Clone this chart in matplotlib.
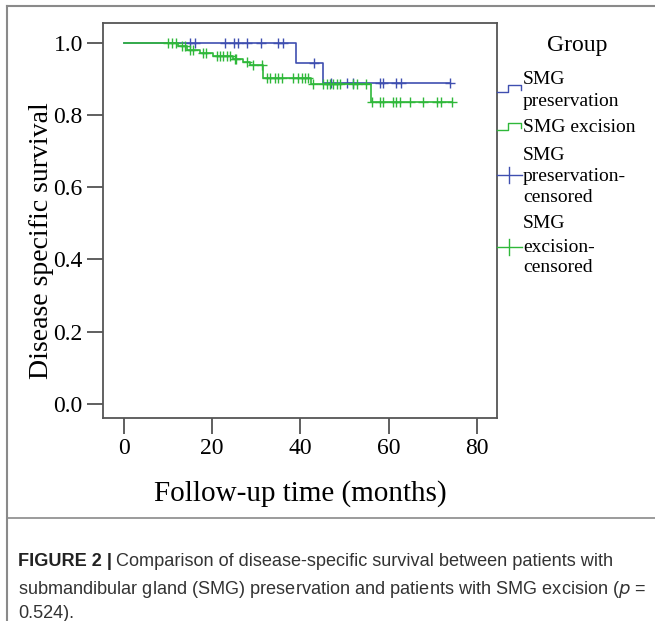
import numpy as np
import matplotlib
matplotlib.use("Agg")
import matplotlib.pyplot as plt
from matplotlib.lines import Line2D

# Kaplan-Meier data (months, survival)
pres_event_times = [39.0, 45.2]
pres_surv = [0.945, 0.888]
pres_censor = [15.0, 16.1, 22.9, 25.0, 25.9, 28.0, 31.1, 35.0, 36.0, 43.1,
               47.0, 50.5, 52.0, 58.0, 58.8, 61.8, 62.9, 73.9]

exc_event_times = [12.3, 14.2, 17.2, 20.2, 24.8, 27.1, 28.6, 31.6, 42.5, 56.0]
exc_surv = [0.99, 0.98, 0.972, 0.964, 0.955, 0.948, 0.94, 0.902, 0.886, 0.836]
exc_censor = [10.0, 10.8, 11.8, 13.1, 13.8, 15.0, 15.7, 18.0, 18.7, 21.0,
              21.8, 22.5, 23.3, 24.0, 25.2, 25.5, 27.8, 29.3, 31.2, 32.4,
              33.1, 34.2, 35.0, 35.8, 38.4, 39.5, 40.3, 41.0, 41.8, 42.9,
              45.2, 46.0, 46.7, 47.5, 48.2, 49.0, 52.0, 52.8, 55.0, 56.2,
              58.0, 58.8, 61.1, 61.8, 62.6, 64.9, 67.9, 70.9, 72.0, 74.3]

xticks = [0, 20, 40, 60, 80]
yticks = [0.0, 0.2, 0.4, 0.6, 0.8, 1.0]

BLUE = "#3f4fb0"
GREEN = "#2fb83a"
SERIF = "Liberation Serif"
SANS = "Liberation Sans"

W, H = 655, 621


def level_at(times, surv, t):
    idx = np.searchsorted(times, t, side="right")
    levels = np.concatenate([[1.0], surv])
    return levels[idx]


def km_curve(ax, times, surv, censor, color):
    end = max(censor)
    xs = [0] + list(times) + [end]
    ys = [1.0] + list(surv) + [surv[-1]]
    ax.step(xs, ys, where="post", color=color, lw=1.2)
    cy = level_at(np.array(times), np.array(surv), np.array(censor))
    ax.plot(censor, cy, ls="none", marker="+", ms=7, mew=1.0, color=color)


def fx(px):
    return px / W


def fy(py):
    return 1 - py / H


fig = plt.figure(figsize=(6.55, 6.21), dpi=100)
ax = fig.add_axes([fx(103), fy(418), fx(497) - fx(103), fy(23) - fy(418)])

km_curve(ax, pres_event_times, pres_surv, pres_censor, BLUE)
km_curve(ax, exc_event_times, exc_surv, exc_censor, GREEN)

ax.set_xlim(-4.76, 84.6)
ax.set_ylim(-0.039, 1.055)
ax.set_xticks(xticks)
ax.set_xticklabels([str(v) for v in xticks])
ax.set_yticks(yticks)
ax.set_yticklabels([f"{v:.1f}" for v in yticks])
ax.tick_params(direction="out", length=11.5, width=1.2, color="#444444",
               labelsize=17, pad=3)
for lab in ax.get_xticklabels() + ax.get_yticklabels():
    lab.set_family(SERIF)
for s in ax.spines.values():
    s.set_color("#555555")
    s.set_linewidth(1.3)

ax.set_xlabel("Follow-up time (months)", fontsize=21, family=SERIF, labelpad=15)
ax.set_ylabel("Disease specific survival", fontsize=20, family=SERIF)
ax.yaxis.set_label_coords(-0.125, 0.45)

# legend, drawn by hand to the right of the plot
fig.text(fx(577), fy(45), "Group", fontsize=17, family=SERIF, ha="center", va="center")
legend_lines = [("SMG", 80), ("preservation", 102), ("SMG excision", 128),
                ("SMG", 155), ("preservation-", 177), ("censored", 198),
                ("SMG", 223), ("excision-", 247), ("censored", 268)]
for txt, py in legend_lines:
    fig.text(fx(523), fy(py), txt, fontsize=14, family=SERIF, ha="left", va="center")

fig.add_artist(Line2D([fx(497), fx(508), fx(508), fx(521), fx(521)],
                      [fy(92), fy(92), fy(85), fy(85), fy(90)],
                      transform=fig.transFigure, color=BLUE, lw=1))
fig.add_artist(Line2D([fx(497), fx(508), fx(508), fx(521), fx(521)],
                      [fy(130), fy(130), fy(123), fy(123), fy(128)],
                      transform=fig.transFigure, color=GREEN, lw=1))
for col, py in [(BLUE, 175), (GREEN, 247)]:
    fig.add_artist(Line2D([fx(497), fx(522)], [fy(py), fy(py)],
                          transform=fig.transFigure, color=col, lw=1))
    fig.add_artist(Line2D([fx(509), fx(509)], [fy(py - 8), fy(py + 8)],
                          transform=fig.transFigure, color=col, lw=1))

# figure frame
frame = "#8a8a8a"
fig.add_artist(Line2D([fx(7), fx(7)], [fy(6), 0], transform=fig.transFigure, color=frame, lw=1.5))
fig.add_artist(Line2D([fx(7), 1], [fy(6), fy(6)], transform=fig.transFigure, color=frame, lw=1.5))
fig.add_artist(Line2D([fx(7), 1], [fy(518), fy(518)], transform=fig.transFigure, color=frame, lw=1.2))

# caption
cap_col = "#333333"
cap_size = 13.1
head = fig.text(fx(18), fy(562), "FIGURE 2 |", fontsize=cap_size, family=SANS,
                weight="bold", color="#222222", va="center")
ax.annotate("Comparison of disease-specific survival between patients with",
            xy=(1, 0.5), xycoords=head, xytext=(3, 0), textcoords="offset points",
            fontsize=cap_size, family=SANS, color=cap_col, va="center",
            annotation_clip=False)
fig.text(fx(18), fy(589),
         "submandibular gland (SMG) preservation and patients with SMG excision ($\\it{p}$ =",
         fontsize=cap_size, family=SANS, color=cap_col, va="center")
fig.text(fx(18), fy(614), "0.524).", fontsize=cap_size, family=SANS,
         color=cap_col, va="center")

fig.savefig("out.png", dpi=100)
